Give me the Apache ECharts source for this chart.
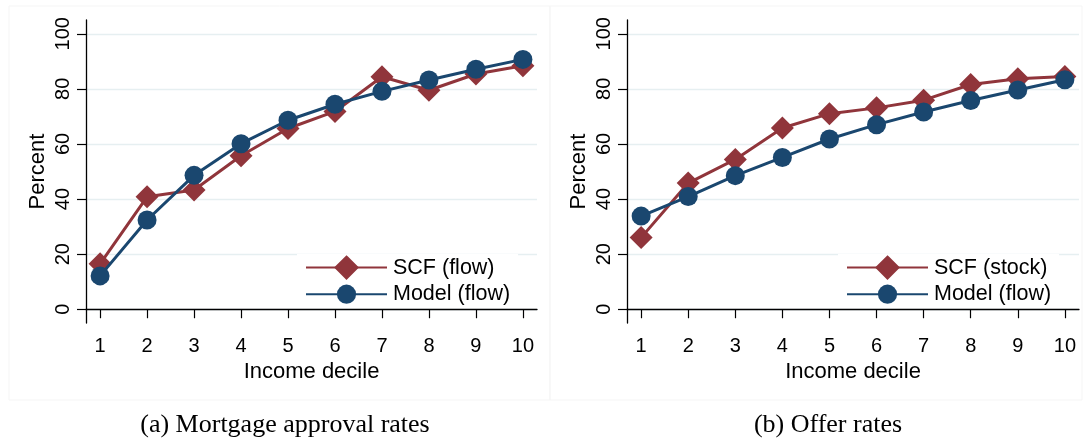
<!DOCTYPE html>
<html>
<head>
<meta charset="utf-8">
<title>Approval and offer rates by income decile</title>
<script src="https://cdn.jsdelivr.net/npm/echarts@6/dist/echarts.min.js"></script>
<style>
html, body { margin: 0; padding: 0; background: #fff; }
#chart { width: 1083px; height: 439px; }
</style>
</head>
<body>
<div id="chart"></div>
<script>
var deciles = [1, 2, 3, 4, 5, 6, 7, 8, 9, 10];
var yTicks = [0, 20, 40, 60, 80, 100];

// (a) mortgage approval rates
var scfFlow = [16.5, 40.8, 43.3, 55.7, 65.6, 71.8, 84.4, 79.5, 85.4, 88.4];
var modelFlowA = [12.1, 32.4, 48.6, 60.1, 68.6, 74.4, 79.1, 83.2, 87.1, 90.7];

// (b) offer rates
var scfStock = [26.0, 45.8, 54.4, 65.8, 71.0, 73.1, 75.9, 81.6, 83.7, 84.5];
var modelFlowB = [33.8, 40.9, 48.5, 55.1, 61.8, 67.0, 71.6, 75.8, 79.6, 83.3];

var captions = ['(a) Mortgage approval rates', '(b) Offer rates'];

var red = '#90353b';
var navy = '#1a476f';
var font = 'Liberation Sans, Arial, sans-serif';
var serif = 'Liberation Serif, serif';

function pairs(vals) {
	var out = [];
	for (var i = 0; i < deciles.length; i++) {
		out.push([deciles[i], vals[i]]);
	}
	return out;
}

function xAxisFor(idx) {
	return {
		gridIndex: idx,
		type: 'value',
		min: 0.7,
		max: 10.3,
		name: 'Income decile',
		nameLocation: 'middle',
		nameGap: 35,
		nameTextStyle: { fontFamily: font, fontSize: 22, color: '#000' },
		axisLine: { lineStyle: { color: '#000', width: 1.3 } },
		axisTick: { customValues: deciles, length: 9, lineStyle: { color: '#000', width: 1.2 } },
		axisLabel: { customValues: deciles, margin: 13, fontFamily: font, fontSize: 20, color: '#000' },
		splitLine: { show: false }
	};
}

function yAxisFor(idx) {
	return {
		gridIndex: idx,
		type: 'value',
		min: -5,
		max: 105,
		name: 'Percent',
		nameLocation: 'middle',
		nameGap: 37,
		nameTextStyle: { fontFamily: font, fontSize: 22, color: '#000' },
		axisLine: { show: true, lineStyle: { color: '#000', width: 1.3 } },
		axisTick: { show: true, customValues: yTicks, length: 9, lineStyle: { color: '#000', width: 1.2 } },
		axisLabel: { customValues: yTicks, rotate: 90, margin: 13, fontFamily: font, fontSize: 20, color: '#000' },
		splitLine: { show: true, lineStyle: { color: '#e6eff1', width: 1.3 } }
	};
}

function lineSeries(name, vals, idx, symbol, size, color) {
	return {
		name: name,
		type: 'line',
		xAxisIndex: idx,
		yAxisIndex: idx,
		data: pairs(vals),
		symbol: symbol,
		symbolSize: size,
		lineStyle: { color: color, width: 3 },
		itemStyle: { color: color },
		emphasis: { disabled: true },
		z: symbol == 'circle' ? 3 : 2
	};
}

function legendFor(names, left) {
	return {
		orient: 'vertical',
		left: left,
		top: 254,
		// the diamond gets a mitred border so it reads larger than the circle
		data: [
			{ name: names[0], itemStyle: { borderColor: red, borderWidth: 4, borderJoin: 'miter' } },
			{ name: names[1] }
		],
		itemWidth: 81,
		itemHeight: 24,
		itemGap: 4,
		padding: [2, 8, 2, 8],
		backgroundColor: '#fff',
		selectedMode: false,
		textStyle: { fontFamily: font, fontSize: 21.5, color: '#000', padding: [0, 0, 0, 1] }
	};
}

var chart = echarts.init(document.getElementById('chart'));

var option = {
	backgroundColor: '#fff',
	animation: false,
	graphic: [
		{ type: 'rect', shape: { x: 9, y: 6, width: 541, height: 394 }, style: { fill: 'none', stroke: '#f5f5f5', lineWidth: 1 }, z: -10 },
		{ type: 'rect', shape: { x: 550, y: 6, width: 532, height: 394 }, style: { fill: 'none', stroke: '#f5f5f5', lineWidth: 1 }, z: -10 }
	],
	title: [
		{ text: captions[0], left: 280, top: 407, textAlign: 'center',
			textStyle: { fontFamily: serif, fontSize: 26, fontWeight: 'normal', color: '#000' } },
		{ text: captions[1], left: 823, top: 407, textAlign: 'center',
			textStyle: { fontFamily: serif, fontSize: 26, fontWeight: 'normal', color: '#000' } }
	],
	legend: [
		legendFor(['SCF (flow)', 'Model (flow)'], 297),
		legendFor(['SCF (stock)', 'Model (flow)'], 838)
	],
	grid: [
		{ left: 86, top: 20, width: 451, height: 303 },
		{ left: 627, top: 20, width: 452, height: 303 }
	],
	xAxis: [xAxisFor(0), xAxisFor(1)],
	yAxis: [yAxisFor(0), yAxisFor(1)],
	series: [
		lineSeries('SCF (flow)', scfFlow, 0, 'diamond', 23, red),
		lineSeries('Model (flow)', modelFlowA, 0, 'circle', 19, navy),
		lineSeries('SCF (stock)', scfStock, 1, 'diamond', 23, red),
		lineSeries('Model (flow)', modelFlowB, 1, 'circle', 19, navy)
	]
};

chart.setOption(option);
</script>
</body>
</html>
